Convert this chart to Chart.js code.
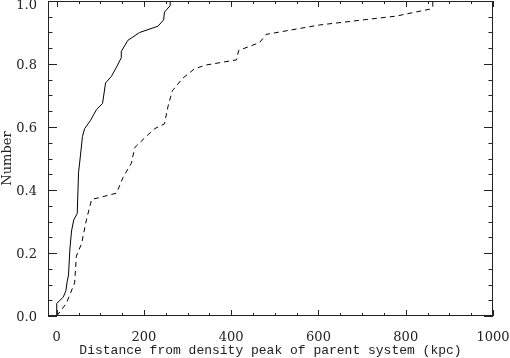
<!DOCTYPE html>
<html>
<head>
<meta charset="utf-8">
<script src="https://cdn.jsdelivr.net/npm/chart.js@4"></script>
<style>
  html, body { margin: 0; padding: 0; background: #fff; }
  canvas { display: block; }
</style>
</head>
<body>
<canvas id="cdfChart" width="510" height="358"></canvas>
<script>
// cumulative distributions (kpc, fraction)
const solidX = [0, 0, 15, 21, 24, 27, 30, 34, 39, 47, 50, 54, 59, 64, 77, 91, 105, 112, 125, 137, 148, 148, 163, 190, 232, 245, 247, 260, 260];
const solidY = [0, 0.04, 0.06, 0.08, 0.11, 0.13, 0.21, 0.27, 0.305, 0.325, 0.455, 0.505, 0.57, 0.595, 0.62, 0.655, 0.675, 0.74, 0.76, 0.79, 0.82, 0.84, 0.875, 0.9, 0.92, 0.94, 0.965, 0.985, 1.0];

const dashedX = [0, 22, 41, 45, 57, 68, 80, 95, 137, 152, 171, 179, 205, 225, 247, 255, 265, 289, 316, 343, 412, 417, 465, 480, 533, 603, 702, 778, 816, 855, 862, 862];
const dashedY = [0, 0.04, 0.105, 0.19, 0.23, 0.305, 0.37, 0.375, 0.39, 0.44, 0.485, 0.535, 0.57, 0.595, 0.61, 0.665, 0.715, 0.755, 0.785, 0.797, 0.813, 0.843, 0.868, 0.894, 0.907, 0.924, 0.94, 0.952, 0.963, 0.974, 0.98, 1.0];

const xTicks = [0, 200, 400, 600, 800, 1000];
const yTicks = [0, 0.2, 0.4, 0.6, 0.8, 1.0];

const FONT = 'DejaVu Serif';
const TITLE_FONT = 'Liberation Mono';
const INK = '#222';

function toPoints(xs, ys) {
    return xs.map((x, i) => ({ x: x, y: ys[i] }));
}

// IDL-style frame: box with inward major/minor ticks on all four sides
const framePlugin = {
    id: 'frame',
    afterDraw(chart) {
        const { ctx, chartArea: a, scales: { x, y } } = chart;
        ctx.save();
        ctx.strokeStyle = INK;
        ctx.lineWidth = 1;
        ctx.strokeRect(a.left + 0.5, a.top + 0.5, a.right - a.left - 1, a.bottom - a.top - 1);

        ctx.beginPath();
        for (let v = 0; v <= 1000; v += 50) {
            const px = Math.round(x.getPixelForValue(v)) + 0.5;
            const len = v % 200 === 0 ? 6 : 3;
            ctx.moveTo(px, a.bottom); ctx.lineTo(px, a.bottom - len);
            ctx.moveTo(px, a.top); ctx.lineTo(px, a.top + len);
        }
        for (let i = 0; i <= 20; i++) {
            const py = Math.round(y.getPixelForValue(i * 0.05)) + 0.5;
            const len = i % 4 === 0 ? 9 : 4.5;
            ctx.moveTo(a.left, py); ctx.lineTo(a.left + len, py);
            ctx.moveTo(a.right, py); ctx.lineTo(a.right - len, py);
        }
        ctx.stroke();
        ctx.restore();
    }
};

new Chart(document.getElementById('cdfChart').getContext('2d'), {
    type: 'line',
    data: {
        datasets: [
            {
                data: toPoints(solidX, solidY),
                borderColor: '#000',
                borderWidth: 1,
                pointRadius: 0,
                tension: 0
            },
            {
                data: toPoints(dashedX, dashedY),
                borderColor: '#000',
                borderWidth: 1,
                borderDash: [5, 4],
                pointRadius: 0,
                tension: 0
            }
        ]
    },
    options: {
        responsive: false,
        devicePixelRatio: 1,
        animation: false,
        layout: { padding: { top: 1, right: 17, left: 0, bottom: 0 } },
        plugins: {
            legend: { display: false },
            tooltip: { enabled: false }
        },
        scales: {
            x: {
                type: 'linear',
                min: -20,
                max: 1000,
                grid: { display: false },
                border: { display: false },
                afterBuildTicks: (s) => { s.ticks = xTicks.map(v => ({ value: v })); },
                afterFit: (s) => { s.height = 42; s.paddingLeft = 0; s.paddingRight = 0; },
                ticks: {
                    color: INK,
                    font: { family: FONT, size: 13 },
                    padding: 6,
                    maxRotation: 0,
                    autoSkip: false,
                    callback: (v) => String(v)
                },
                title: {
                    display: true,
                    text: 'Distance from density peak of parent system (kpc)',
                    color: INK,
                    font: { family: TITLE_FONT, size: 13 },
                    padding: { top: 0, bottom: 0 }
                }
            },
            y: {
                type: 'linear',
                min: 0,
                max: 1,
                grid: { display: false },
                border: { display: false },
                afterBuildTicks: (s) => { s.ticks = yTicks.map(v => ({ value: v })); },
                afterFit: (s) => { s.width = 48; s.paddingTop = 0; s.paddingBottom = 0; },
                ticks: {
                    color: INK,
                    // top label sits a little lower so it is not cut off, like the original
                    font: (c) => ({ family: FONT, size: 13, lineHeight: c.tick && c.tick.value === 1 ? 5 / 13 : 1.2 }),
                    padding: 3,
                    labelOffset: 2,
                    callback: (v) => v === 1 ? ['', '1.0'] : Number(v).toFixed(1)
                },
                title: {
                    display: true,
                    text: 'Number',
                    color: INK,
                    font: { family: FONT, size: 13 },
                    padding: 0
                }
            }
        }
    },
    plugins: [framePlugin]
});
</script>
</body>
</html>
